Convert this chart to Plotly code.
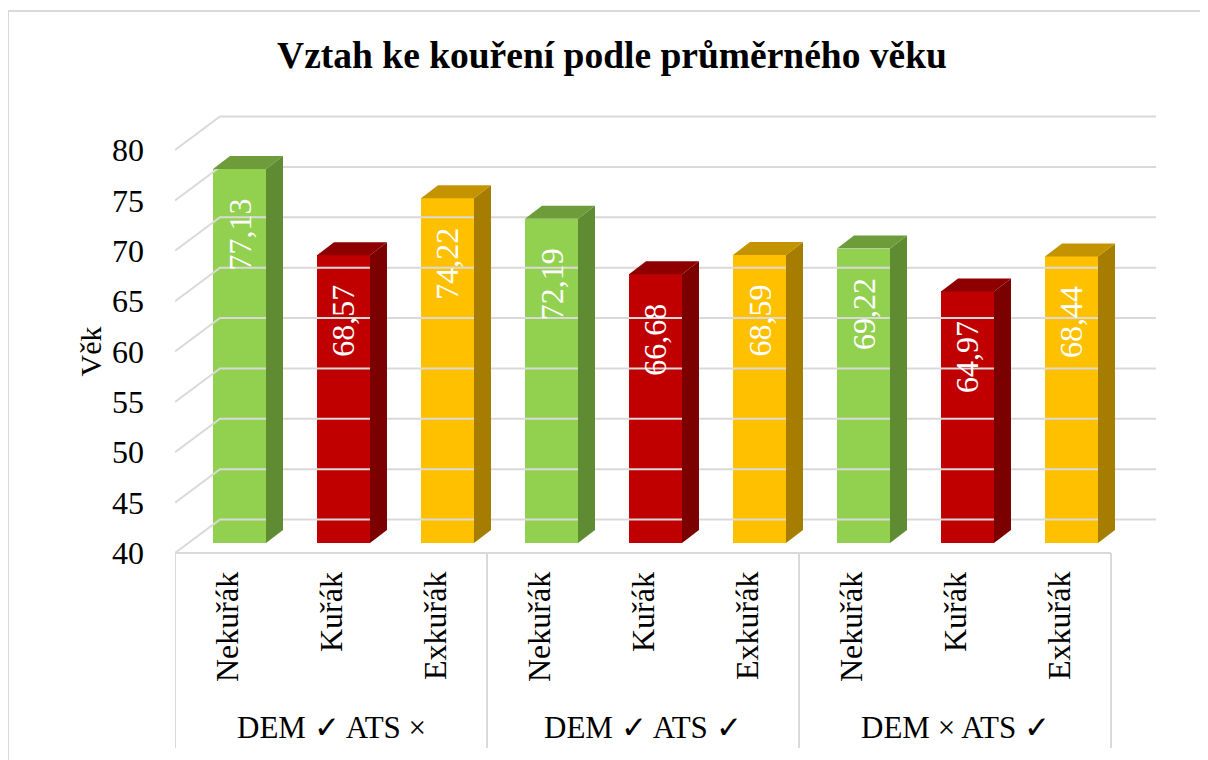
import plotly.graph_objects as go

# ---- data ----
groups = ["DEM ✓ ATS ×", "DEM ✓ ATS ✓", "DEM × ATS ✓"]
categories = ["Nekuřák", "Kuřák", "Exkuřák"]
values = [77.13, 68.57, 74.22, 72.19, 66.68, 68.59, 69.22, 64.97, 68.44]
value_labels = ["77,13", "68,57", "74,22", "72,19", "66,68", "68,59", "69,22", "64,97", "68,44"]
tick_vals = [40, 45, 50, 55, 60, 65, 70, 75, 80]

front_col = {"Nekuřák": "#92D050", "Kuřák": "#C00000", "Exkuřák": "#FFC000"}
side_col = {"Nekuřák": "#5F8B33", "Kuřák": "#7B0000", "Exkuřák": "#A67D00"}
top_col = {"Nekuřák": "#6E9C3B", "Kuřák": "#8E0000", "Exkuřák": "#C49300"}

FONT = "Liberation Serif"
OFF = 8                      # page body margin
W, H = 1208 - OFF, 760 - OFF  # figure size so it fills the window
ML = 175 - OFF               # plot area left edge (front plane, page x=175)
PX_X = 104.0                 # px per category
PX_Y = 10.075                # px per value unit
Y40 = 553 - OFF              # pixel of value 40 on front plane
X0 = 227 - OFF               # pixel of first category on front plane

xr = [(ML - X0) / PX_X, (W - X0) / PX_X]
yr = [40 - (H - Y40) / PX_Y, 40 + Y40 / PX_Y]

DXW = 45 / PX_X        # wall depth x
DYW = 33.5 / PX_Y      # wall depth y
FX = 12.5 / PX_X       # bar front face offset
FY = 10 / PX_Y
BW = 53 / PX_X         # bar width
BDX = 17 / PX_X        # bar depth
BDY = 13 / PX_Y

n = len(values)
cats_full = [categories[i % 3] for i in range(n)]

fig = go.Figure()

# gridlines (left wall + back wall)
gx, gy = [], []
left, right = -0.5, n - 0.5
for v in tick_vals:
    gx += [left, left + DXW, right + DXW, None]
    gy += [v, v + DYW, v + DYW, None]
fig.add_trace(go.Scatter(x=gx, y=gy, mode="lines", line=dict(color="#D9D9D9", width=2),
                         hoverinfo="skip", showlegend=False))

# floor front edge and group separators
bottom_v = 40 - (748 - 553) / PX_Y
sx = [left, right, None]
sy = [40, 40, None]
for k in range(len(groups) + 1):
    xv = -0.5 + 3 * k
    sx += [xv, xv, None]
    sy += [40, bottom_v, None]
fig.add_trace(go.Scatter(x=sx, y=sy, mode="lines", line=dict(color="#D9D9D9", width=2),
                         hoverinfo="skip", showlegend=False))

# bars: front faces
xs = [i + FX for i in range(n)]
fig.add_trace(go.Bar(x=xs, y=[v - 40 for v in values], base=40 + FY, width=BW,
                     marker=dict(color=[front_col[c] for c in cats_full], line=dict(width=0)),
                     hoverinfo="skip", showlegend=False))

# side and top faces
for i, v in enumerate(values):
    c = cats_full[i]
    xl = i + FX - BW / 2
    xrr = i + FX + BW / 2
    b = 40 + FY
    t = v + FY
    fig.add_trace(go.Scatter(x=[xrr, xrr + BDX, xrr + BDX, xrr, xrr],
                             y=[b, b + BDY, t + BDY, t, b],
                             fill="toself", fillcolor=side_col[c], mode="lines",
                             line=dict(width=0, color=side_col[c]),
                             hoverinfo="skip", showlegend=False))
    fig.add_trace(go.Scatter(x=[xl, xrr, xrr + BDX, xl + BDX, xl],
                             y=[t, t, t + BDY, t + BDY, t],
                             fill="toself", fillcolor=top_col[c], mode="lines",
                             line=dict(width=0, color=top_col[c]),
                             hoverinfo="skip", showlegend=False))

annotations = []
# value labels
for i, v in enumerate(values):
    annotations.append(dict(x=i + FX, y=v + FY - 28 / PX_Y, xref="x", yref="y",
                            text=value_labels[i], textangle=-90, showarrow=False,
                            yanchor="top", xanchor="center",
                            font=dict(family=FONT, size=32, color="white")))
# category labels
cat_y = 40 - 17 / PX_Y
for i in range(n):
    annotations.append(dict(x=i, y=cat_y, xref="x", yref="y", text=cats_full[i],
                            textangle=-90, showarrow=False, yanchor="top", xanchor="center",
                            font=dict(family=FONT, size=32, color="black")))
# group labels
grp_y = 40 - (727 - 553) / PX_Y
for k, g in enumerate(groups):
    annotations.append(dict(x=3 * k + 1, y=grp_y, xref="x", yref="y", text=g,
                            showarrow=False, yanchor="middle", xanchor="center",
                            font=dict(family=FONT, size=31, color="black")))
# y-axis title, centred on the value range
annotations.append(dict(x=(90 - OFF - ML) / (W - ML), y=(tick_vals[0] + tick_vals[-1]) / 2,
                        xref="paper", yref="y", text="Věk", textangle=-90, showarrow=False,
                        xanchor="center", yanchor="middle",
                        font=dict(family=FONT, size=30, color="black")))

fig.update_layout(
    width=W, height=H,
    margin=dict(l=ML, r=0, t=0, b=0),
    paper_bgcolor="white", plot_bgcolor="rgba(0,0,0,0)",
    title=dict(text="<b>Vztah ke kouření podle průměrného věku</b>",
               x=(612 - OFF) / W, xref="container", xanchor="center",
               y=1 - (55 - OFF) / H, yref="container", yanchor="middle",
               font=dict(family=FONT, size=37.5, color="black")),
    xaxis=dict(range=xr, visible=False, fixedrange=True),
    yaxis=dict(range=yr, tickvals=tick_vals, ticktext=[str(t) for t in tick_vals],
               showgrid=False, zeroline=False, showline=False, ticks="",
               ticklabelstandoff=30,
               tickfont=dict(family=FONT, size=32, color="black")),
    annotations=annotations,
    shapes=[dict(type="rect", xref="paper", yref="paper",
                 x0=(8 - OFF - ML) / (W - ML), x1=1.02, y0=-0.02, y1=1 - (11 - OFF) / H,
                 line=dict(color="#D9D9D9", width=2), layer="below")],
    bargap=0,
    showlegend=False,
)

fig.write_html("out.html")
